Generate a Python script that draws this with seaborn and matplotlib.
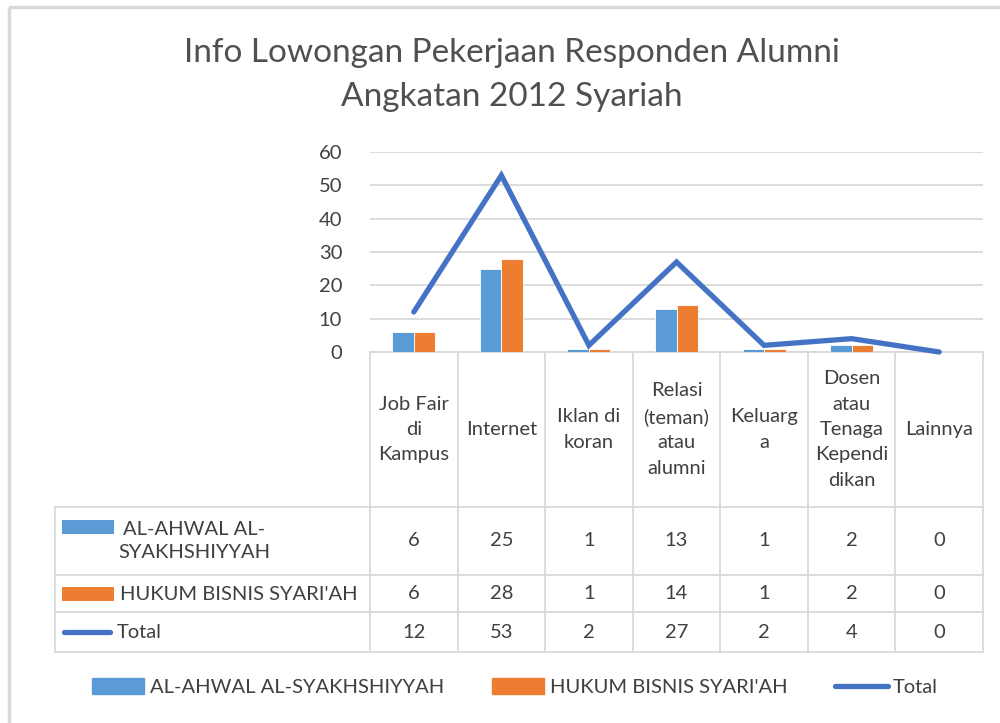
import numpy as np
import pandas as pd
import matplotlib
matplotlib.use("Agg")
import matplotlib.pyplot as plt
from matplotlib.patches import Rectangle
from matplotlib.lines import Line2D
import seaborn as sns

# ---------------- data ----------------
categories = ["Job Fair di Kampus", "Internet", "Iklan di koran",
              "Relasi (teman) atau alumni", "Keluarga",
              "Dosen atau Tenaga Kependidikan", "Lainnya"]
category_labels = ["Job Fair\ndi\nKampus", "Internet", "Iklan di\nkoran",
                   "Relasi\n(teman)\natau\nalumni", "Keluarg\na",
                   "Dosen\natau\nTenaga\nKependi\ndikan", "Lainnya"]
series_names = ["AL-AHWAL AL-SYAKHSHIYYAH", "HUKUM BISNIS SYARI'AH"]
row_labels = ["AL-AHWAL AL-\nSYAKHSHIYYAH", "HUKUM BISNIS SYARI'AH", "Total"]
al_ahwal = [6, 25, 1, 13, 1, 2, 0]
hukum_bisnis = [6, 28, 1, 14, 1, 2, 0]
total = [12, 53, 2, 27, 2, 4, 0]
yticks = [0, 10, 20, 30, 40, 50, 60]
title = "Info Lowongan Pekerjaan Responden Alumni\nAngkatan 2012 Syariah"

# ---------------- style ----------------
sns.set_style("white")
plt.rcParams['font.family'] = ['Lato', 'DejaVu Sans']
BLUE = "#5B9BD5"
ORANGE = "#ED7D31"
LINE = "#4472C4"
GRID = "#D9D9D9"
TXT = "#404040"
TITLE_C = "#505050"
FS = 14.5

W, H = 1000, 723
fig = plt.figure(figsize=(W / 100, H / 100), dpi=100)

def fx(px):
    return px / W

def fy(py):
    return 1 - py / H

# overlay axes in pixel coords (for table, border, title)
ov = fig.add_axes([0, 0, 1, 1], zorder=0)
ov.set_xlim(0, W)
ov.set_ylim(H, 0)
ov.axis("off")

# chart border
ov.add_patch(Rectangle((9, 7), 1100, 800, fill=False, ec=GRID, lw=2.5))

# plot area
px0, px1, py0, py1 = 370, 983, 152, 352
ax = fig.add_axes([fx(px0), fy(py1), fx(px1 - px0), (py1 - py0) / H], zorder=2)
ax.patch.set_alpha(0)

df = pd.DataFrame({
    "category": categories * 2,
    "series": [series_names[0]] * len(categories) + [series_names[1]] * len(categories),
    "value": al_ahwal + hukum_bisnis,
})
sns.barplot(data=df, x="category", y="value", hue="series", order=categories,
            hue_order=series_names, palette=[BLUE, ORANGE], width=0.49,
            ax=ax, legend=False, saturation=1, zorder=3,
            edgecolor="white", linewidth=0.6)
sns.lineplot(x=np.arange(len(categories)), y=total, ax=ax, color=LINE,
             lw=3.8, zorder=4, solid_capstyle="round", solid_joinstyle="miter")
for l in ax.lines:
    l.set_clip_on(False)

ax.set_xlim(-0.5, len(categories) - 0.5)
ax.set_ylim(0, 60)
ax.set_yticks(yticks)
ax.set_yticklabels([str(v) for v in yticks], fontsize=FS, color=TXT)
ax.tick_params(axis="y", length=0, pad=20)
ax.set_xticks([])
ax.set_xlabel("")
ax.set_ylabel("")
ax.grid(axis="y", color=GRID, lw=1.3, zorder=0)
ax.set_axisbelow(True)
for s in ["top", "right", "left"]:
    ax.spines[s].set_visible(False)
ax.spines["bottom"].set_color(GRID)
ax.spines["bottom"].set_linewidth(1.3)

# title
ov.text(512, 75, title, ha="center", va="center", fontsize=24, color=TITLE_C,
        linespacing=1.55)

# ---------------- data table ----------------
ncol = len(categories)
colw = (px1 - px0) / ncol
col_edges = [px0 + i * colw for i in range(ncol + 1)]
col_centers = [px0 + (i + 0.5) * colw for i in range(ncol)]
row_edges = [352, 507, 575, 612, 652]
tleft = 55
lw_t = 1.3
for x in col_edges:
    ov.plot([x, x], [row_edges[0], row_edges[-1]], color=GRID, lw=lw_t)
ov.plot([tleft, tleft], [row_edges[1], row_edges[-1]], color=GRID, lw=lw_t)
for y in row_edges[1:]:
    ov.plot([tleft, px1], [y, y], color=GRID, lw=lw_t)

hc = (row_edges[0] + row_edges[1]) / 2
for xc, lab in zip(col_centers, category_labels):
    ov.text(xc, hc, lab, ha="center", va="center", fontsize=FS, color=TXT,
            linespacing=1.6)

rows = [al_ahwal, hukum_bisnis, total]
for r, vals in enumerate(rows):
    yc = (row_edges[r + 1] + row_edges[r + 2]) / 2
    for xc, v in zip(col_centers, vals):
        ov.text(xc, yc, str(v), ha="center", va="center", fontsize=FS, color=TXT)

# row label keys + texts
ov.add_patch(Rectangle((62, 520), 52, 14, color=BLUE, lw=0))
ov.text(194, 541, row_labels[0], ha="center", va="center", fontsize=FS,
        color=TXT, linespacing=1.45)
ov.add_patch(Rectangle((62, 587), 52, 14, color=ORANGE, lw=0))
ov.text(120, 594, row_labels[1], ha="left", va="center", fontsize=FS, color=TXT)
ov.plot([64, 110], [632, 632], color=LINE, lw=3.8, solid_capstyle="round")
ov.text(117, 632, row_labels[2], ha="left", va="center", fontsize=FS, color=TXT)

# ---------------- legend ----------------
handles = [Rectangle((0, 0), 1, 1, color=BLUE),
           Rectangle((0, 0), 1, 1, color=ORANGE),
           Line2D([0], [0], color=LINE, lw=3.8, solid_capstyle="round")]
fig.legend(handles, series_names + ["Total"], loc="center",
           bbox_to_anchor=(fx(515), fy(687)), ncol=3, frameon=False,
           fontsize=FS, handlelength=2.6, handleheight=0.8, handletextpad=0.25,
           columnspacing=2.4, labelcolor=TXT)

fig.savefig("out.png", dpi=100)
